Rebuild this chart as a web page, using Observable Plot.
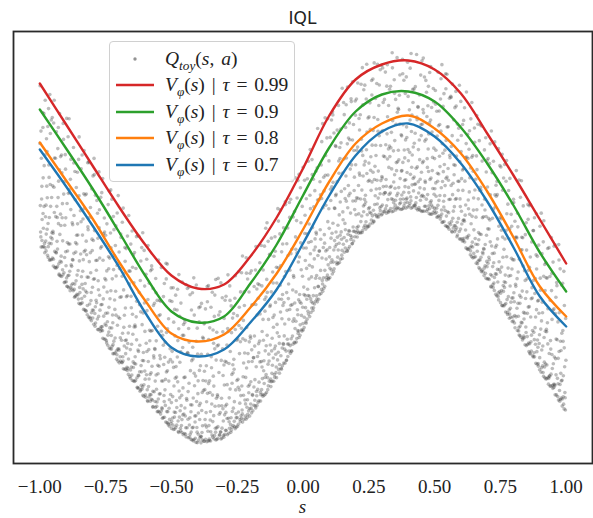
<!DOCTYPE html>
<html><head><meta charset="utf-8">
<script src="https://cdn.jsdelivr.net/npm/d3@7"></script>
<script src="https://cdn.jsdelivr.net/npm/@observablehq/plot@0.6"></script>
<style>
body{margin:0;background:#fff;}
#wrap{position:relative;width:593px;height:518px;overflow:hidden;}
#title{position:absolute;left:0;width:605px;top:8px;text-align:center;font-family:"DejaVu Sans",sans-serif;font-size:17px;color:#222;}
#xlabel{position:absolute;left:0;width:605px;top:497px;text-align:center;font-family:"Liberation Serif",serif;font-style:italic;font-size:19px;line-height:19px;color:#222;}
#legend{position:absolute;left:109px;top:41px;width:186px;height:141px;border:1px solid #d0d0d0;border-radius:4px;background:rgba(255,255,255,0.85);box-sizing:border-box;}
.row{position:absolute;left:0;height:26px;width:185px;}
.row svg{position:absolute;left:5px;top:0;}
.row .t{position:absolute;left:55px;top:2px;font-family:"Liberation Serif",serif;font-size:19.5px;color:#222;white-space:nowrap;line-height:22px;word-spacing:2px;}
.row .t i{font-style:italic;}
.row .t sub{font-size:0.68em;vertical-align:-0.35em;line-height:0;}
</style></head><body>
<div id="wrap"><div id="title">IQL</div><div id="xlabel">s</div><div id="legend"></div></div>
<script>
const sGrid = [-1.0,-0.9,-0.8,-0.7,-0.6,-0.5,-0.4,-0.3,-0.2,-0.1,0.0,0.1,0.2,0.3,0.4,0.5,0.6,0.7,0.8,0.9,1.0];
// V_phi(s) for each expectile tau
const v099 = [1.64,1.23,0.82,0.41,0.03,-0.28,-0.41,-0.37,-0.09,0.30,0.79,1.32,1.68,1.83,1.87,1.78,1.54,1.14,0.72,0.28,-0.16];
const v090 = [1.38,0.99,0.59,0.16,-0.28,-0.64,-0.75,-0.69,-0.36,0.03,0.52,1.00,1.36,1.53,1.56,1.46,1.20,0.84,0.42,-0.05,-0.44];
const v080 = [1.05,0.67,0.29,-0.14,-0.53,-0.86,-0.94,-0.87,-0.60,-0.26,0.18,0.66,1.04,1.24,1.32,1.19,0.94,0.56,0.10,-0.39,-0.69];
const v070 = [0.98,0.61,0.22,-0.19,-0.65,-1.00,-1.09,-1.02,-0.75,-0.42,0.04,0.52,0.92,1.16,1.24,1.11,0.84,0.46,0.00,-0.49,-0.79];
const tauLabels = ["0.99","0.9","0.8","0.7"];
const seriesColors = ["#d62728","#2ca02c","#ff7f0e","#1f77b4"];
// envelope of the Q_toy(s,a) cloud (lower edge, upper edge)
const qLower = [0.02,-0.38,-0.75,-1.15,-1.51,-1.81,-1.96,-1.91,-1.68,-1.31,-0.83,-0.31,0.09,0.33,0.40,0.32,0.07,-0.33,-0.78,-1.23,-1.65];
const qUpper = [1.74,1.34,0.93,0.52,0.13,-0.19,-0.32,-0.28,0.01,0.41,0.90,1.43,1.79,1.94,1.98,1.90,1.65,1.25,0.83,0.39,-0.06];
const nSamples = 2500;
const xTicks = [-1,-0.75,-0.5,-0.25,0,0.25,0.5,0.75,1];

// build tables
const seriesValues = [v099, v090, v080, v070];
const lines = [];
seriesValues.forEach((vals, k) => sGrid.forEach((s, i) => lines.push({s, v: vals[i], tau: tauLabels[k]})));

function halton(i, b){ let f = 1, r = 0; while(i > 0){ f /= b; r += f * (i % b); i = Math.floor(i / b);} return r; }
function envAt(arr, s){
  const t = (s - sGrid[0]) / 0.1; const i = Math.max(0, Math.min(sGrid.length - 2, Math.floor(t)));
  const u = t - i; return arr[i] * (1 - u) + arr[i + 1] * u;
}
const cloud = [];
for (let i = 1; i <= nSamples; i++) {
  const s = -1 + 2 * halton(i, 2);
  const a = halton(i, 5);
  const lo = envAt(qLower, s), up = envAt(qUpper, s);
  cloud.push({s, q: lo + (up - lo) * a * a});
}

const chart = Plot.plot({
  width: 593, height: 518,
  marginLeft: 13, marginRight: 1, marginTop: 31, marginBottom: 55,
  style: {fontFamily: '"Liberation Serif", serif', fontSize: "19px", color: "#222", background: "transparent", overflow: "visible"},
  x: {domain: [-1.1, 1.1], ticks: xTicks, tickFormat: d3.format(".2f"), tickSize: 0, tickPadding: 16, label: null},
  y: {domain: [-2.16, 2.16], axis: null},
  color: {domain: tauLabels, range: seriesColors},
  marks: [
    Plot.dot(cloud, {x: "s", y: "q", r: 1.8, fill: "#3a3a3a", fillOpacity: 0.34, stroke: null}),
    Plot.line(lines, {x: "s", y: "v", z: "tau", stroke: "tau", strokeWidth: 2.4, curve: "catmull-rom"}),
    Plot.frame({stroke: "#2a2a2a", strokeWidth: 1.8})
  ]
});
const wrap = document.getElementById("wrap");
chart.style.position = "absolute"; chart.style.left = "0"; chart.style.top = "0";
wrap.insertBefore(chart, wrap.firstChild);

// legend
const legend = document.getElementById("legend");
const rowsHtml = [];
rowsHtml.push(`<div class="row" style="top:4px"><svg width="45" height="26"><circle cx="20" cy="13" r="1.7" fill="#3a3a3a" fill-opacity="0.55"/></svg><div class="t" style="left:55px"><i>Q</i><sub><i>toy</i></sub>(<i>s</i>, <i>a</i>)</div></div>`);
tauLabels.forEach((t, k) => {
  rowsHtml.push(`<div class="row" style="top:${30 + 26.5 * k}px"><svg width="45" height="26"><line x1="1" x2="39" y1="13" y2="13" stroke="${seriesColors[k]}" stroke-width="2.6"/></svg><div class="t"><i>V</i><sub><i>φ</i></sub>(<i>s</i>) | <i>τ</i> = ${t}</div></div>`);
});
legend.innerHTML = rowsHtml.join("");
</script>
</body></html>
